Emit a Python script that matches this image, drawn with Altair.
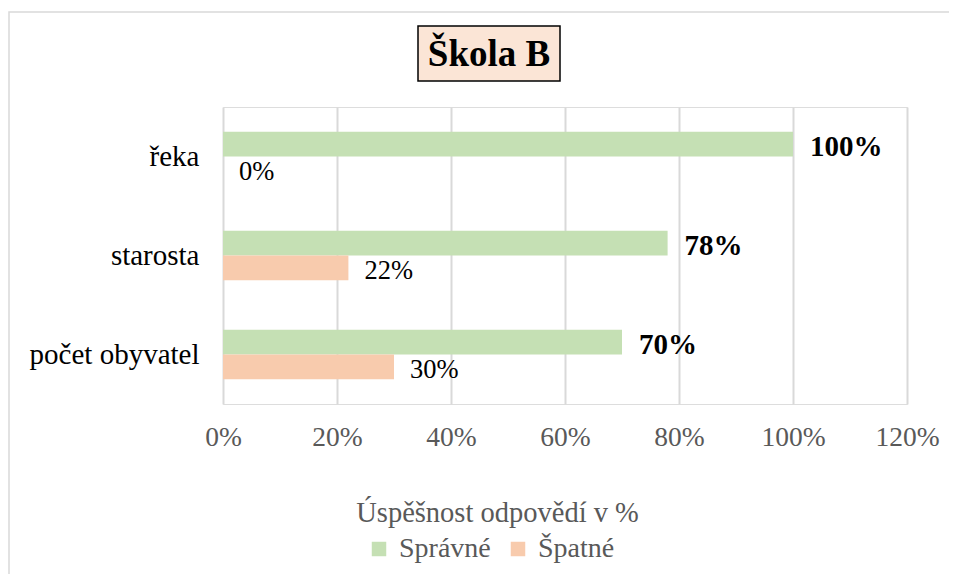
import altair as alt
import pandas as pd

categories = ["řeka", "starosta", "počet obyvatel"]
series = ["Správné", "Špatné"]
spravne = [100, 78, 70]
spatne = [0, 22, 30]
x_ticks = [0, 20, 40, 60, 80, 100, 120]
colors = ["#c5e0b4", "#f8cbad"]

rows = []
for c, a, b in zip(categories, spravne, spatne):
    rows.append({"kategorie": c, "serie": series[0], "hodnota": a})
    rows.append({"kategorie": c, "serie": series[1], "hodnota": b})
df = pd.DataFrame(rows)

FONT = "Liberation Serif"

y_enc = alt.Y("kategorie:N", sort=categories,
              scale=alt.Scale(paddingInner=0.5, paddingOuter=0.25),
              axis=alt.Axis(title=None, labelFont=FONT, labelFontSize=29,
                            labelColor="#000000", labelPadding=24,
                            ticks=False, domain=False, grid=False))
yoff = alt.YOffset("serie:N", sort=series, scale=alt.Scale(paddingInner=0, paddingOuter=0))

x_enc = alt.X("hodnota:Q", scale=alt.Scale(domain=[0, 120], nice=False),
              axis=alt.Axis(values=x_ticks, labelExpr="datum.label + '%'",
                            labelFlush=False, labelOverlap=False,
                            title="Úspěšnost odpovědí v %",
                            titleFont=FONT, titleFontSize=28.5, titleFontWeight="normal",
                            titleColor="#595959", titleX=274, titleY=108,
                            titleAlign="center", titleBaseline="middle",
                            labelFont=FONT, labelFontSize=27.5, labelColor="#595959",
                            labelPadding=19, ticks=False, domain=False,
                            grid=True, gridColor="#d9d9d9", gridWidth=2))

base = alt.Chart(df)

bars = base.mark_bar().encode(
    x=x_enc,
    y=y_enc,
    yOffset=yoff,
    color=alt.Color("serie:N", sort=series,
                    scale=alt.Scale(domain=series, range=colors),
                    legend=alt.Legend(title=None, orient="none", legendX=142, legendY=428,
                                      direction="horizontal", padding=0,
                                      symbolType="square", symbolSize=210,
                                      symbolStrokeWidth=0, labelFont=FONT,
                                      labelFontSize=28, labelColor="#595959",
                                      labelOffset=6, columnPadding=13)),
)

labels_ok = base.transform_filter(alt.datum.serie == series[0]).transform_calculate(
    txt="datum.hodnota + '%'"
).mark_text(align="left", baseline="middle", dx=17, dy=3, font=FONT,
            fontSize=29, fontWeight="bold", color="#000000").encode(
    x="hodnota:Q", y=alt.Y("kategorie:N", sort=categories), yOffset=yoff, text="txt:N")

labels_bad = base.transform_filter(alt.datum.serie == series[1]).transform_calculate(
    txt="datum.hodnota + '%'"
).mark_text(align="left", baseline="middle", dx=16, dy=3, font=FONT,
            fontSize=26.5, color="#000000").encode(
    x="hodnota:Q", y=alt.Y("kategorie:N", sort=categories), yOffset=yoff, text="txt:N")

one = alt.Chart(pd.DataFrame({"t": ["Škola B"]}))

border = one.mark_rect(fill="transparent", stroke="#d9d9d9", strokeWidth=1.5).encode(
    x=alt.value(-214), x2=alt.value(900), y=alt.value(-95), y2=alt.value(700))

title_box = one.mark_rect(fill="#fbe5d6", stroke="#000000", strokeWidth=1.5).encode(
    x=alt.value(195), x2=alt.value(337), y=alt.value(-81), y2=alt.value(-26))

title_text = one.mark_text(font=FONT, fontSize=37, fontWeight="bold", color="#000000",
                           align="center", baseline="middle").encode(
    x=alt.value(266), y=alt.value(-52), text="t:N")

chart = alt.layer(border, bars, labels_ok, labels_bad, title_box, title_text).properties(
    width=684, height=297,
    autosize=alt.AutoSizeParams(type="none"),
    padding={"left": 215, "top": 99, "right": 42, "bottom": 170},
).configure_view(stroke=None).configure(background="white")

chart.save("out.html", embed_options={"renderer": "svg", "actions": False})
